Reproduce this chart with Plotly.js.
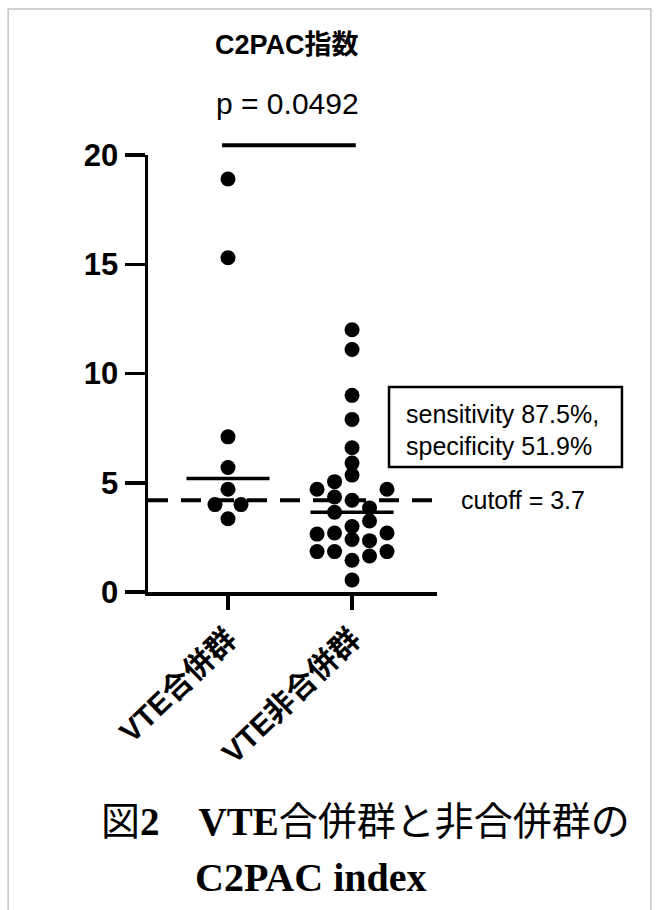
<!DOCTYPE html>
<html>
<head>
<meta charset="utf-8">
<script src="https://cdn.plot.ly/plotly-3.0.1.min.js"></script>
<style>html,body{margin:0;padding:0;background:#fff;}</style>
</head>
<body>
<div id="chart" style="width:659px;height:910px;"></div>
<script>
// ---- data ----
const categories = ["VTE合併群", "VTE非合併群"];
const vteValues = [18.9, 15.3, 7.1, 5.7, 4.7, 4.0, 4.0, 3.35];
const nonVteValues = [12.0, 11.1, 9.0, 7.9, 6.6, 5.9, 5.35, 5.05, 4.7, 4.7, 4.35, 4.2, 3.85, 3.65,
                      3.25, 3.0, 2.7, 2.7, 2.65, 2.4, 2.35, 1.85, 1.85, 1.85, 1.65, 1.45, 0.55];
const yTickVals = [0, 5, 10, 15, 20];
const pValueText = "p = 0.0492";
const cutoffValue = 3.7;        // stated cutoff
const cutoffLineLevel = 4.2;    // level where the dashed line is drawn in the figure
const sensitivityText = "sensitivity 87.5%,";
const specificityText = "specificity 51.9%";
const titleText = "C2PAC指数";

// ---- swarm layout (column index of each dot, styling only) ----
const vteCols = [0, 0, 0, 0, 0, -1, 1, 0];
const nonVteCols = [0, 0, 0, 0, 0, 0, 0, -1, -2, 2, -1, 0, 1, -1, 1, 0, -1, 2, -2, 0, 1, -2, -1, 2, 1, 0, 0];
const vteStep = 0.105, nonVteStep = 0.141;
const xRange = [-0.645, 1.685];
const yRange = [0, 20];

function median(a) {
  const s = a.slice().sort((p, q) => p - q);
  const m = Math.floor(s.length / 2);
  return s.length % 2 ? s[m] : (s[m - 1] + s[m]) / 2;
}
function xp(v) { return (v - xRange[0]) / (xRange[1] - xRange[0]); }
function yp(v) { return (v - yRange[0]) / (yRange[1] - yRange[0]); }

const dotStyle = {color: "#000", size: 15, line: {width: 0}};
const medHalf = 0.335;

const traces = [
  {x: vteValues.map((v, i) => 0 + vteCols[i] * vteStep), y: vteValues, type: "scatter", mode: "markers",
   marker: dotStyle, cliponaxis: false, hoverinfo: "y"},
  {x: nonVteValues.map((v, i) => 1 + nonVteCols[i] * nonVteStep), y: nonVteValues, type: "scatter", mode: "markers",
   marker: dotStyle, cliponaxis: false, hoverinfo: "y"},
  {x: [0 - medHalf, 0 + medHalf], y: [median(vteValues), median(vteValues)], type: "scatter", mode: "lines",
   line: {color: "#000", width: 3.5}, hoverinfo: "skip"},
  {x: [1 - medHalf, 1 + medHalf], y: [median(nonVteValues), median(nonVteValues)], type: "scatter", mode: "lines",
   line: {color: "#000", width: 3.5}, hoverinfo: "skip"},
  {x: [xRange[0], 1.653], y: [cutoffLineLevel, cutoffLineLevel], type: "scatter", mode: "lines",
   line: {color: "#000", width: 3.8, dash: "20px,13px"}, hoverinfo: "skip"}
];

const sigBarY = 20.45, sigBarX = [-0.048, 1.03];

const layout = {
  width: 659, height: 910,
  margin: {l: 148, r: 222, t: 155, b: 318, pad: 0},
  paper_bgcolor: "#fff", plot_bgcolor: "#fff",
  showlegend: false,
  font: {family: "Liberation Sans, Arial, Noto Sans CJK JP, sans-serif", color: "#000"},
  xaxis: {
    range: xRange, tickvals: [0, 1], ticktext: categories, tickangle: -44,
    showline: true, linecolor: "#000", linewidth: 3.5, mirror: false,
    ticks: "outside", ticklen: 14, tickwidth: 3.5, tickcolor: "#000",
    showgrid: false, zeroline: false,
    tickfont: {family: "Liberation Sans, Noto Sans CJK JP, sans-serif", size: 30, color: "#000", weight: "bold"}
  },
  yaxis: {
    range: yRange, tickvals: yTickVals,
    showline: true, linecolor: "#000", linewidth: 3.5,
    ticks: "outside", ticklen: 20, tickwidth: 3.5, tickcolor: "#000",
    showgrid: false, zeroline: false,
    tickfont: {family: "Liberation Sans, sans-serif", size: 31, color: "#000", weight: "bold"}
  },
  shapes: [
    {type: "line", xref: "paper", yref: "paper", x0: xp(sigBarX[0]), x1: xp(sigBarX[1]), y0: yp(sigBarY), y1: yp(sigBarY),
     line: {color: "#000", width: 4}},
    {type: "rect", xref: "paper", yref: "paper", x0: 0.834, x1: 1.640, y0: 0.286, y1: 0.469,
     line: {color: "#000", width: 2.5}, fillcolor: "rgba(0,0,0,0)"},
    {type: "rect", xref: "paper", yref: "paper", x0: -0.484, x1: 1.740, y0: -0.74, y1: 1.334,
     line: {color: "#c4c4c4", width: 1.5}, fillcolor: "rgba(0,0,0,0)", layer: "below"}
  ],
  annotations: [
    {text: "<b>" + titleText + "</b>", xref: "paper", yref: "paper", x: 0.481, y: 1.252, xanchor: "center", yanchor: "middle",
     showarrow: false, font: {size: 27, family: "Liberation Sans, Noto Sans CJK JP, sans-serif", color: "#000"}},
    {text: pValueText, xref: "paper", yref: "paper", x: 0.481, y: 1.117, xanchor: "center", yanchor: "middle",
     showarrow: false, font: {size: 30, color: "#000"}},
    {text: sensitivityText, xref: "paper", yref: "paper", x: 0.886, y: 0.407, xanchor: "left", yanchor: "middle",
     showarrow: false, font: {size: 25, color: "#000"}},
    {text: specificityText, xref: "paper", yref: "paper", x: 0.886, y: 0.334, xanchor: "left", yanchor: "middle",
     showarrow: false, font: {size: 25, color: "#000"}},
    {text: "cutoff = " + cutoffValue, xref: "paper", yref: "paper", x: 1.076, y: 0.2105, xanchor: "left", yanchor: "middle",
     showarrow: false, font: {size: 25, color: "#000"}},
    {text: "図<b>2</b>　<b>VTE</b>合併群と非合併群の", xref: "paper", yref: "paper", x: -0.168, y: -0.526, xanchor: "left", yanchor: "middle",
     showarrow: false, font: {size: 39, family: "Liberation Serif, Noto Sans CJK JP, serif", color: "#000"}},
    {text: "<b>C2PAC index</b>", xref: "paper", yref: "paper", x: 0.156, y: -0.654, xanchor: "left", yanchor: "middle",
     showarrow: false, font: {size: 40, family: "Liberation Serif, serif", color: "#000"}}
  ]
};

Plotly.newPlot("chart", traces, layout, {displayModeBar: false, staticPlot: true});
</script>
</body>
</html>
